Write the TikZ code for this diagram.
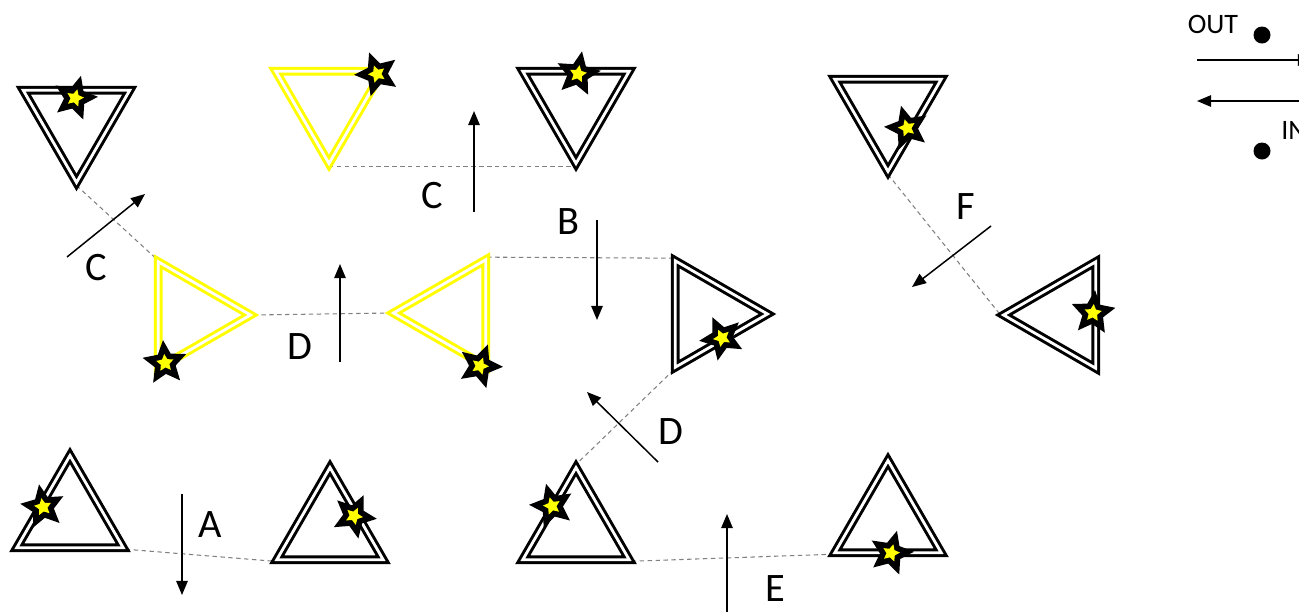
\documentclass[tikz,border=0pt]{standalone}
\usepackage{fontspec}
\setmainfont{Carlito}
\usetikzlibrary{shapes.geometric, arrows.meta, backgrounds}
\definecolor{amarilloTri}{RGB}{255, 255, 0}
\definecolor{grisLinea}{RGB}{128, 128, 128}

\tikzset{
  tri/.style={regular polygon, regular polygon sides=3, double=white, double distance=1.6pt,
    line width=1.7pt, minimum size=2.46cm, inner sep=0pt},
  trinegro/.style={tri, draw=black},
  triamarillo/.style={tri, draw=amarilloTri},
  estrella/.style={star, star points=5, star point ratio=2.1, fill=black, minimum size=0.92cm, inner sep=0pt},
  estrellita/.style={star, star points=5, star point ratio=2.0, fill=amarilloTri, minimum size=0.36cm, inner sep=0pt},
  enlace/.style={grisLinea, line width=0.6pt, dash pattern=on 2.5pt off 2pt},
  flecha/.style={-{Triangle[length=8pt, width=6.5pt]}, line width=0.85pt},
  etiqueta/.style={font=\fontsize{23}{26}\selectfont, inner sep=0pt},
  leyenda/.style={font=\fontsize{16}{18}\selectfont, inner sep=0pt}
}
\newcommand{\estrella}[3]{%
  \node[estrella, rotate=#3] (#1) at (#2) {};
  \node[estrellita, rotate=#3] at (#1) {};
}

\begin{document}
\begin{tikzpicture}[x=0.02cm, y=-0.02cm]
  \useasboundingbox (0,0) rectangle (1299,613);
  \clip (0,0) rectangle (1299,613);

  % Triangulos
  \node[trinegro, shape border rotate=180] (t1) at (76.5,121) {};
  \node[triamarillo, shape border rotate=180] (t2) at (329,102) {};
  \node[trinegro, shape border rotate=180] (t3) at (576,102) {};
  \node[trinegro, shape border rotate=180] (t4) at (888,110) {};
  \node[triamarillo, shape border rotate=-90] (t5) at (189,315) {};
  \node[triamarillo, shape border rotate=90] (t6) at (455,313) {};
  \node[trinegro, shape border rotate=-90] (t7) at (706,314) {};
  \node[trinegro, shape border rotate=90] (t8) at (1065,315) {};
  \node[trinegro] (t9) at (70,517) {};
  \node[trinegro] (t10) at (330,529) {};
  \node[trinegro] (t11) at (576,529) {};
  \node[trinegro] (t12) at (888,522) {};

  % Enlaces punteados
  \begin{scope}[on background layer]
    \draw[enlace] (t1.corner 1) -- (t5.corner 2);
    \draw[enlace] (t2.corner 1) -- (t3.corner 1);
    \draw[enlace] (t5.corner 1) -- (t6.corner 1);
    \draw[enlace] (t6.corner 3) -- (t7.corner 2);
    \draw[enlace] (t7.corner 3) -- (t11.corner 1);
    \draw[enlace] (t4.corner 1) -- (t8.corner 1);
    \draw[enlace] (t9.corner 3) -- (t10.corner 2);
    \draw[enlace] (t11.corner 3) -- (t12.corner 2);
  \end{scope}

  % Estrellas
  \estrella{s1}{75,98}{-15}
  \estrella{s2}{377,74}{20}
  \estrella{s3}{578,74}{-10}
  \estrella{s4}{907,128}{15}
  \estrella{s5}{165,363}{5}
  \estrella{s6}{480,366}{-20}
  \estrella{s7}{722,338}{25}
  \estrella{s8}{1093,313}{-5}
  \estrella{s9}{43,507}{10}
  \estrella{s10}{354,516}{-25}
  \estrella{s11}{552,506}{15}
  \estrella{s12}{891,553}{-15}

  % Flechas y letras
  \draw[flecha] (67,257) -- (145,194);
  \node[etiqueta] (lc1) at (96,268) {C};
  \draw[flecha] (474,212) -- (474,111);
  \node[etiqueta] (lc2) at (432,196) {C};
  \draw[flecha] (340,362) -- (340,264);
  \node[etiqueta] (ld1) at (300,347) {D};
  \draw[flecha] (597,220) -- (597,320);
  \node[etiqueta] (lb) at (568,222) {B};
  \draw[flecha] (658,462) -- (587,392);
  \node[etiqueta] (ld2) at (671,432) {D};
  \draw[flecha] (991,226) -- (912,287);
  \node[etiqueta] (lf) at (966,207) {F};
  \draw[flecha] (182,494) -- (182,595);
  \node[etiqueta] (la) at (210,525) {A};
  \draw[flecha] (727,612) -- (727,514);
  \node[etiqueta] (le) at (775,589) {E};

  % Leyenda
  \node[leyenda] (out) at (1213,24) {OUT};
  \fill (1262,35) circle (8.5);
  \draw[flecha] (1197,60) -- (1312,60);
  \draw[flecha] (1312,101) -- (1197,101);
  \node[leyenda, anchor=west] (in) at (1281,130) {IN};
  \fill (1262,151) circle (8.5);
\end{tikzpicture}
\end{document}
